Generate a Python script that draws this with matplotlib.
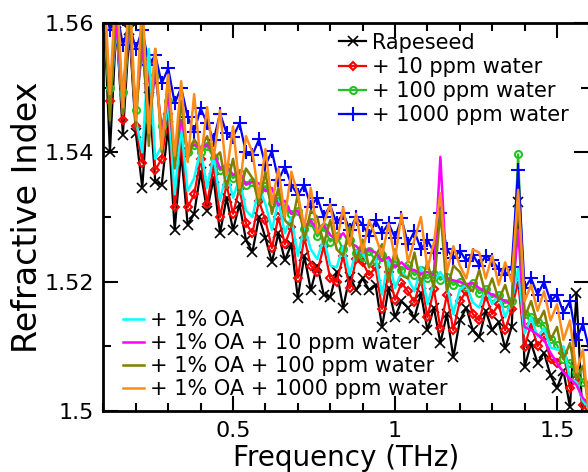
import numpy as np
import matplotlib
matplotlib.use('Agg')
import matplotlib.pyplot as plt
from matplotlib.ticker import MultipleLocator, FuncFormatter

# frequency grid (THz)
freq = np.linspace(0.10, 1.62, 77)

rapeseed = [1.5640, 1.5400, 1.5600, 1.5427, 1.5590, 1.5430, 1.5345, 1.5500, 1.5354, 1.5350,
            1.5440, 1.5280, 1.5400, 1.5288, 1.5305, 1.5370, 1.5310, 1.5360, 1.5275, 1.5330,
            1.5280, 1.5320, 1.5264, 1.5246, 1.5300, 1.5268, 1.5230, 1.5275, 1.5233, 1.5258,
            1.5175, 1.5240, 1.5187, 1.5225, 1.5180, 1.5176, 1.5215, 1.5160, 1.5208, 1.5187,
            1.5205, 1.5187, 1.5195, 1.5130, 1.5190, 1.5145, 1.5170, 1.5160, 1.5144, 1.5182,
            1.5125, 1.5160, 1.5105, 1.5150, 1.5083, 1.5140, 1.5160, 1.5125, 1.5114, 1.5155,
            1.5125, 1.5138, 1.5097, 1.5130, 1.5323, 1.5068, 1.5105, 1.5074, 1.5090, 1.5055,
            1.5036, 1.5062, 1.5006, 1.5183, 1.4975, 1.4960, 1.4985]

water_10 = [1.5610, 1.5480, 1.5590, 1.5450, 1.5600, 1.5440, 1.5384, 1.5540, 1.5373, 1.5390,
            1.5460, 1.5315, 1.5420, 1.5315, 1.5335, 1.5390, 1.5320, 1.5380, 1.5300, 1.5350,
            1.5305, 1.5345, 1.5290, 1.5275, 1.5325, 1.5295, 1.5252, 1.5300, 1.5258, 1.5285,
            1.5206, 1.5268, 1.5225, 1.5215, 1.5255, 1.5205, 1.5200, 1.5240, 1.5190, 1.5235,
            1.5230, 1.5210, 1.5222, 1.5158, 1.5215, 1.5172, 1.5198, 1.5185, 1.5168, 1.5205,
            1.5145, 1.5188, 1.5128, 1.5180, 1.5125, 1.5170, 1.5185, 1.5150, 1.5140, 1.5178,
            1.5150, 1.5165, 1.5125, 1.5158, 1.5200, 1.5099, 1.5135, 1.5100, 1.5115, 1.5080,
            1.5075, 1.5090, 1.5035, 1.5050, 1.5010, 1.4995, 1.4990]

water_100 = [1.5620, 1.5500, 1.5590, 1.5493, 1.5600, 1.5465, 1.5560, 1.5450, 1.5520, 1.5440,
             1.5480, 1.5385, 1.5440, 1.5400, 1.5412, 1.5400, 1.5410, 1.5392, 1.5372, 1.5378,
             1.5360, 1.5368, 1.5350, 1.5354, 1.5340, 1.5348, 1.5322, 1.5330, 1.5314, 1.5305,
             1.5310, 1.5282, 1.5292, 1.5270, 1.5284, 1.5262, 1.5270, 1.5250, 1.5265, 1.5245,
             1.5238, 1.5248, 1.5232, 1.5242, 1.5222, 1.5232, 1.5218, 1.5226, 1.5210, 1.5218,
             1.5205, 1.5212, 1.5203, 1.5208, 1.5195, 1.5200, 1.5192, 1.5198, 1.5182, 1.5188,
             1.5176, 1.5180, 1.5167, 1.5170, 1.5397, 1.5150, 1.5146, 1.5138, 1.5132, 1.5112,
             1.5102, 1.5080, 1.5074, 1.5060, 1.5045, 1.5035, 1.5030]

water_1000 = [1.5640, 1.5590, 1.5620, 1.5566, 1.5597, 1.5560, 1.5590, 1.5535, 1.5550, 1.5507,
              1.5530, 1.5476, 1.5500, 1.5455, 1.5432, 1.5468, 1.5445, 1.5419, 1.5460, 1.5430,
              1.5424, 1.5445, 1.5400, 1.5396, 1.5420, 1.5380, 1.5402, 1.5357, 1.5378, 1.5350,
              1.5334, 1.5350, 1.5316, 1.5330, 1.5300, 1.5318, 1.5290, 1.5306, 1.5280, 1.5300,
              1.5288, 1.5270, 1.5295, 1.5275, 1.5290, 1.5268, 1.5298, 1.5258, 1.5278, 1.5250,
              1.5265, 1.5245, 1.5306, 1.5250, 1.5236, 1.5248, 1.5232, 1.5242, 1.5225, 1.5240,
              1.5233, 1.5220, 1.5210, 1.5222, 1.5373, 1.5190, 1.5205, 1.5180, 1.5200, 1.5170,
              1.5180, 1.5152, 1.5170, 1.5110, 1.5135, 1.5094, 1.5100]

oa = [1.5620, 1.5470, 1.5600, 1.5460, 1.5610, 1.5450, 1.5400, 1.5560, 1.5390, 1.5410,
      1.5480, 1.5335, 1.5440, 1.5340, 1.5360, 1.5405, 1.5345, 1.5395, 1.5325, 1.5370,
      1.5330, 1.5360, 1.5310, 1.5300, 1.5345, 1.5320, 1.5280, 1.5325, 1.5275, 1.5300,
      1.5240, 1.5285, 1.5250, 1.5235, 1.5268, 1.5225, 1.5222, 1.5255, 1.5210, 1.5248,
      1.5245, 1.5225, 1.5238, 1.5180, 1.5235, 1.5190, 1.5215, 1.5205, 1.5185, 1.5222,
      1.5165, 1.5200, 1.5215, 1.5195, 1.5150, 1.5188, 1.5195, 1.5168, 1.5160, 1.5190,
      1.5165, 1.5180, 1.5145, 1.5170, 1.5220, 1.5120, 1.5145, 1.5115, 1.5128, 1.5098,
      1.5095, 1.5100, 1.5050, 1.5045, 1.5015, 1.5005, 1.4995]

oa_10 = [1.5630, 1.5490, 1.5600, 1.5480, 1.5610, 1.5460, 1.5570, 1.5440, 1.5530, 1.5430,
         1.5490, 1.5390, 1.5450, 1.5405, 1.5412, 1.5408, 1.5412, 1.5400, 1.5375, 1.5380,
         1.5365, 1.5370, 1.5350, 1.5355, 1.5352, 1.5340, 1.5345, 1.5318, 1.5325, 1.5305,
         1.5310, 1.5285, 1.5295, 1.5280, 1.5288, 1.5272, 1.5265, 1.5275, 1.5260, 1.5255,
         1.5245, 1.5250, 1.5245, 1.5232, 1.5238, 1.5222, 1.5230, 1.5220, 1.5218, 1.5212,
         1.5215, 1.5210, 1.5393, 1.5205, 1.5202, 1.5200, 1.5196, 1.5198, 1.5190, 1.5185,
         1.5180, 1.5175, 1.5170, 1.5165, 1.5280, 1.5130, 1.5125, 1.5118, 1.5110, 1.5090,
         1.5074, 1.5060, 1.5050, 1.5040, 1.5020, 1.5010, 1.5000]

oa_100 = [1.5660, 1.5450, 1.5640, 1.5460, 1.5630, 1.5440, 1.5600, 1.5410, 1.5560, 1.5400,
          1.5520, 1.5375, 1.5480, 1.5390, 1.5420, 1.5405, 1.5425, 1.5390, 1.5400, 1.5345,
          1.5390, 1.5335, 1.5375, 1.5360, 1.5320, 1.5370, 1.5305, 1.5345, 1.5295, 1.5285,
          1.5335, 1.5265, 1.5310, 1.5300, 1.5258, 1.5295, 1.5250, 1.5240, 1.5285, 1.5232,
          1.5265, 1.5222, 1.5240, 1.5258, 1.5200, 1.5250, 1.5210, 1.5205, 1.5245, 1.5195,
          1.5230, 1.5190, 1.5310, 1.5185, 1.5225, 1.5215, 1.5195, 1.5185, 1.5218, 1.5180,
          1.5205, 1.5172, 1.5195, 1.5160, 1.5330, 1.5145, 1.5170, 1.5135, 1.5155, 1.5110,
          1.5130, 1.5080, 1.5105, 1.5050, 1.5070, 1.4995, 1.5025]

oa_1000 = [1.5680, 1.5490, 1.5670, 1.5470, 1.5660, 1.5450, 1.5640, 1.5430, 1.5560, 1.5405,
           1.5520, 1.5395, 1.5510, 1.5385, 1.5490, 1.5385, 1.5470, 1.5390, 1.5465, 1.5365,
           1.5440, 1.5345, 1.5425, 1.5400, 1.5330, 1.5405, 1.5320, 1.5375, 1.5300, 1.5370,
           1.5335, 1.5285, 1.5345, 1.5275, 1.5290, 1.5320, 1.5260, 1.5315, 1.5255, 1.5305,
           1.5245, 1.5295, 1.5270, 1.5240, 1.5290, 1.5235, 1.5305, 1.5230, 1.5265, 1.5300,
           1.5220, 1.5260, 1.5337, 1.5215, 1.5255, 1.5225, 1.5205, 1.5250, 1.5245, 1.5205,
           1.5240, 1.5195, 1.5230, 1.5200, 1.5342, 1.5170, 1.5195, 1.5155, 1.5185, 1.5140,
           1.5165, 1.5110, 1.5140, 1.5060, 1.5095, 1.4985, 1.5030]

plt.rcParams['font.family'] = ['DejaVu Sans']

fig = plt.figure(figsize=(5.88, 4.72), dpi=100)
ax = fig.add_axes([0.1759, 0.1292, 0.8265, 0.822])

h1 = []
h1 += ax.plot(freq, rapeseed, color='black', lw=1.6, marker='x', ms=7, mew=1.2, label='Rapeseed')
h1 += ax.plot(freq, water_10, color='red', lw=1.6, marker='D', ms=4.5, mfc='none', mew=1.5,
              label='+ 10 ppm water')
h1 += ax.plot(freq, water_100, color='#22c322', lw=1.6, marker='o', ms=5, mfc='none', mew=1.5,
              label='+ 100 ppm water')
h1 += ax.plot(freq, water_1000, color='blue', lw=1.6, marker='+', ms=10, mew=1.5,
              label='+ 1000 ppm water')
h2 = []
h2 += ax.plot(freq, oa, color='cyan', lw=1.8, label='+ 1% OA')
h2 += ax.plot(freq, oa_10, color='magenta', lw=1.8, label='+ 1% OA + 10 ppm water')
h2 += ax.plot(freq, oa_100, color='#808000', lw=1.8, label='+ 1% OA + 100 ppm water')
h2 += ax.plot(freq, oa_1000, color='#ff8c1a', lw=1.8, label='+ 1% OA + 1000 ppm water')

ax.set_xlim(0.1, 1.6)
ax.set_ylim(1.5, 1.56)
ax.xaxis.set_major_locator(MultipleLocator(0.5))
ax.xaxis.set_minor_locator(MultipleLocator(0.1))
ax.yaxis.set_major_locator(MultipleLocator(0.02))
ax.yaxis.set_minor_locator(MultipleLocator(0.01))
fmt = FuncFormatter(lambda v, p: '%g' % round(v, 3))
ax.xaxis.set_major_formatter(fmt)
ax.yaxis.set_major_formatter(fmt)
ax.tick_params(which='both', direction='in', top=True, right=True, width=1.5, labelsize=16)
ax.tick_params(which='major', length=11, pad=7)
ax.tick_params(which='minor', length=6)
for s in ax.spines.values():
    s.set_linewidth(2)

ax.set_xlabel('Frequency (THz)', fontsize=20, labelpad=2)
ax.set_ylabel('Refractive Index', fontsize=24, labelpad=0)

leg1 = ax.legend(handles=h1, loc='upper left', bbox_to_anchor=(0.485, 0.975), frameon=False,
                 fontsize=15, handlelength=1.3, handletextpad=0.3, labelspacing=0.2,
                 borderpad=0, borderaxespad=0, numpoints=1)
ax.add_artist(leg1)
ax.legend(handles=h2, loc='lower left', bbox_to_anchor=(0.04, 0.03), frameon=False,
          fontsize=15, handlelength=1.0, handletextpad=0.3, labelspacing=0.15,
          borderpad=0, borderaxespad=0)

fig.savefig('out.png', dpi=100)
